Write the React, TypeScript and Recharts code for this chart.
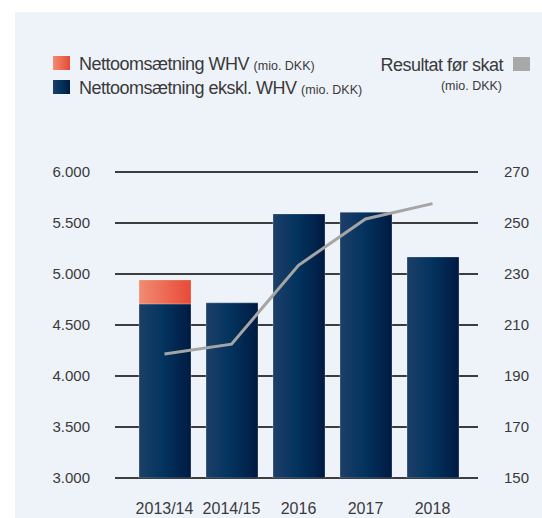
import React from "react";
import {
  Bar,
  CartesianGrid,
  ComposedChart,
  Line,
  XAxis,
  YAxis,
} from "recharts";

const years = ["2013/14", "2014/15", "2016", "2017", "2018"];
const omsaetningEksklWhv = [4707, 4717, 5589, 5605, 5167];
const omsaetningWhv = [235, 0, 0, 0, 0];
const resultatFoerSkat = [198.6, 202.5, 233.4, 251.6, 257.6];

const leftTicks = [3000, 3500, 4000, 4500, 5000, 5500, 6000];
const rightTicks = [150, 170, 190, 210, 230, 250, 270];

const data = years.map((year, i) => ({
  year,
  ekskl: omsaetningEksklWhv[i],
  whv: omsaetningWhv[i],
  resultat: resultatFoerSkat[i],
}));

const FONT = "'Liberation Sans', Arial, sans-serif";
const TEXT = "#3a3a3a";

const fmtDk = (v: number) =>
  `${Math.floor(v / 1000)}.${String(v % 1000).padStart(3, "0")}`;

function Legend() {
  return (
    <svg
      width={542}
      height={518}
      style={{ position: "absolute", left: 0, top: 0, pointerEvents: "none" }}
    >
      <defs>
        <linearGradient id="lgOrange" x1="0" y1="0" x2="1" y2="0">
          <stop offset="0%" stopColor="#f08c72" />
          <stop offset="100%" stopColor="#e84a36" />
        </linearGradient>
        <linearGradient id="lgBlue" x1="0" y1="0" x2="1" y2="0">
          <stop offset="0%" stopColor="#1d3f68" />
          <stop offset="45%" stopColor="#03345f" />
          <stop offset="100%" stopColor="#001a42" />
        </linearGradient>
      </defs>
      <g fontFamily={FONT} fill={TEXT}>
        <rect x={53} y={56} width={17} height={14} fill="url(#lgOrange)" />
        <text x={79} y={69.5} fontSize={18} letterSpacing={-0.5}>
          Nettoomsætning WHV{" "}
          <tspan fontSize={12.5} letterSpacing={0}>(mio. DKK)</tspan>
        </text>
        <rect x={53} y={80} width={17} height={14} fill="url(#lgBlue)" />
        <text x={79} y={94} fontSize={18} letterSpacing={-0.5}>
          Nettoomsætning ekskl. WHV{" "}
          <tspan fontSize={12.5} letterSpacing={0}>(mio. DKK)</tspan>
        </text>
        <text x={503} y={70.5} fontSize={18} letterSpacing={-0.5} textAnchor="end">
          Resultat før skat
        </text>
        <text x={502} y={89.5} fontSize={12.5} textAnchor="end">
          (mio. DKK)
        </text>
        <rect x={513} y={57} width={17} height={14} fill="#a8a8a8" />
      </g>
    </svg>
  );
}

export default function App() {
  return (
    <div
      style={{
        position: "absolute",
        left: 0,
        top: 0,
        width: 542,
        height: 518,
        background: "#ffffff",
        overflow: "hidden",
      }}
    >
      <div
        style={{
          position: "absolute",
          left: 15,
          top: 12,
          width: 527,
          height: 506,
          background: "#eef3fa",
        }}
      />
      <div style={{ position: "absolute", left: 0, top: 0 }}>
        <ComposedChart
          width={542}
          height={518}
          data={data}
          margin={{ top: 172, right: 0, bottom: 10, left: 55 }}
        >
          <defs>
            <linearGradient id="blueGrad" x1="0" y1="0" x2="1" y2="0">
              <stop offset="0%" stopColor="#1d3f68" />
              <stop offset="45%" stopColor="#03345f" />
              <stop offset="100%" stopColor="#001a42" />
            </linearGradient>
            <linearGradient id="orangeGrad" x1="0" y1="0" x2="1" y2="0">
              <stop offset="0%" stopColor="#f08c72" />
              <stop offset="100%" stopColor="#e84a36" />
            </linearGradient>
          </defs>
          <CartesianGrid
            yAxisId="left"
            vertical={false}
            stroke="#000"
            strokeWidth={1.5}
          />
          <XAxis
            dataKey="year"
            axisLine={false}
            tickLine={false}
            tickSize={0}
            tickMargin={25}
            height={30}
            padding={{ left: 16, right: 12 }}
            tick={{ fill: TEXT, fontSize: 16, fontFamily: FONT }}
          />
          <YAxis
            yAxisId="left"
            orientation="left"
            width={60}
            domain={[3000, 6000]}
            ticks={leftTicks}
            allowDataOverflow
            axisLine={false}
            tickLine={false}
            tickSize={0}
            tickMargin={25}
            tickFormatter={fmtDk}
            tick={{ fill: TEXT, fontSize: 15, fontFamily: FONT }}
          />
          <YAxis
            yAxisId="right"
            orientation="right"
            width={64}
            domain={[150, 270]}
            ticks={rightTicks}
            allowDataOverflow
            axisLine={false}
            tickLine={false}
            tickSize={0}
            tickMargin={26}
            tick={{ fill: TEXT, fontSize: 15, fontFamily: FONT, textAnchor: "start" }}
          />
          <Bar
            yAxisId="left"
            dataKey="ekskl"
            stackId="a"
            barSize={52}
            fill="url(#blueGrad)"
            stroke="rgba(255,255,255,0.25)"
            strokeWidth={1}
            isAnimationActive={false}
          />
          <Bar
            yAxisId="left"
            dataKey="whv"
            stackId="a"
            barSize={52}
            fill="url(#orangeGrad)"
            stroke="rgba(255,255,255,0.25)"
            strokeWidth={1}
            isAnimationActive={false}
          />
          <Line
            yAxisId="right"
            dataKey="resultat"
            type="linear"
            stroke="#a5a5a5"
            strokeWidth={3}
            dot={false}
            isAnimationActive={false}
          />
        </ComposedChart>
      </div>
      <Legend />
    </div>
  );
}
